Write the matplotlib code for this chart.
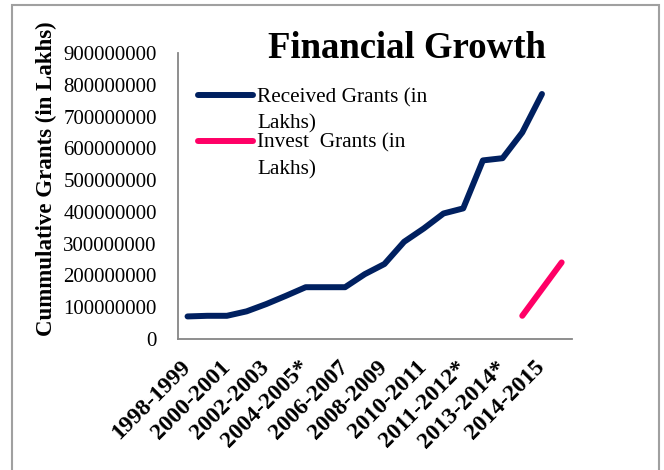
import matplotlib
matplotlib.use("Agg")
import matplotlib.pyplot as plt
import numpy as np
from matplotlib.patches import Rectangle
from matplotlib.legend_handler import HandlerLine2D

# ---- data ----
x_labels = ["1998-1999", "2000-2001", "2002-2003", "2004-2005*", "2006-2007",
            "2008-2009", "2010-2011", "2011-2012*", "2013-2014*", "2014-2015"]
received = [71e6, 73e6, 73e6, 87e6, 110e6, 136e6, 163e6, 163e6, 163e6, 204e6,
            236e6, 306e6, 348e6, 395e6, 411e6, 562e6, 569e6, 650e6, 771e6]
invest = [73e6, 157e6, 241e6]
invest_start = 17
n_categories = 20
y_ticks = [0, 100000000, 200000000, 300000000, 400000000, 500000000,
           600000000, 700000000, 800000000, 900000000]
series_names = ["Received Grants (in\nLakhs)", "Invest  Grants (in\nLakhs)"]
title = "Financial Growth"
y_title = "Cummulative Grants (in Lakhs)"

plt.rcParams['font.family'] = ['Liberation Serif', 'DejaVu Serif']


class TopHandler(HandlerLine2D):
    """Align the legend line with the first line of a two-line label."""
    def create_artists(self, legend, orig_handle, xdescent, ydescent,
                       width, height, fontsize, trans):
        arts = super().create_artists(legend, orig_handle, xdescent, ydescent,
                                      width, height, fontsize, trans)
        for a in arts:
            a.set_ydata(np.asarray(a.get_ydata(), dtype=float) + 0.72 * fontsize)
        return arts


W, H = 664, 470
fig = plt.figure(figsize=(W / 100, H / 100), dpi=100)
ax = fig.add_axes([177.7 / W, 1 - 339 / H, (571.5 - 177.7) / W, (339 - 53) / H])

x_all = np.arange(n_categories)
l1, = ax.plot(x_all[:len(received)], received, color="#002060", lw=4.3,
              solid_capstyle="round", solid_joinstyle="round", label=series_names[0])
l2, = ax.plot(x_all[invest_start:invest_start + len(invest)], invest, color="#FF0066",
              lw=4.3, solid_capstyle="round", solid_joinstyle="round", label=series_names[1])

ax.set_xlim(-0.5, n_categories - 0.5)
ax.set_ylim(0, 900000000)
ax.set_yticks(y_ticks)
ax.set_yticklabels([str(v) for v in y_ticks], fontsize=15)
ax.set_xticks(x_all[::2])
ax.set_xticklabels(x_labels, fontsize=17, fontweight="bold", rotation=45,
                   ha="right", va="center", rotation_mode="anchor")
ax.tick_params(axis="y", length=0, pad=15)
ax.tick_params(axis="x", length=0, pad=18)

for s in ["top", "right"]:
    ax.spines[s].set_visible(False)
for s in ["left", "bottom"]:
    ax.spines[s].set_color("#868686")
    ax.spines[s].set_linewidth(1.3)

leg = ax.legend(handles=[l1, l2], loc="upper left", bbox_to_anchor=(0.035, 0.90),
                frameon=False, fontsize=15.3, handlelength=2.6, handletextpad=0.2,
                labelspacing=0.0, borderaxespad=0.0, borderpad=0.3,
                handler_map={l1: TopHandler(), l2: TopHandler()})
for t in leg.get_texts():
    t.set_linespacing(1.5)

fig.text(406.7 / W, 1 - 57.7 / H, title, fontsize=26.5, fontweight="bold",
         ha="center", va="baseline")
fig.text(46 / W, 1 - 179 / H, y_title, fontsize=16.5, fontweight="bold",
         rotation=90, ha="center", va="center")

fig.patches.append(Rectangle((12 / W, -0.05), (659 - 12) / W, 1 - 5 / H + 0.05,
                             transform=fig.transFigure, fill=False,
                             edgecolor="#A0A0A0", lw=1.5))

fig.savefig("out.png", dpi=100)
